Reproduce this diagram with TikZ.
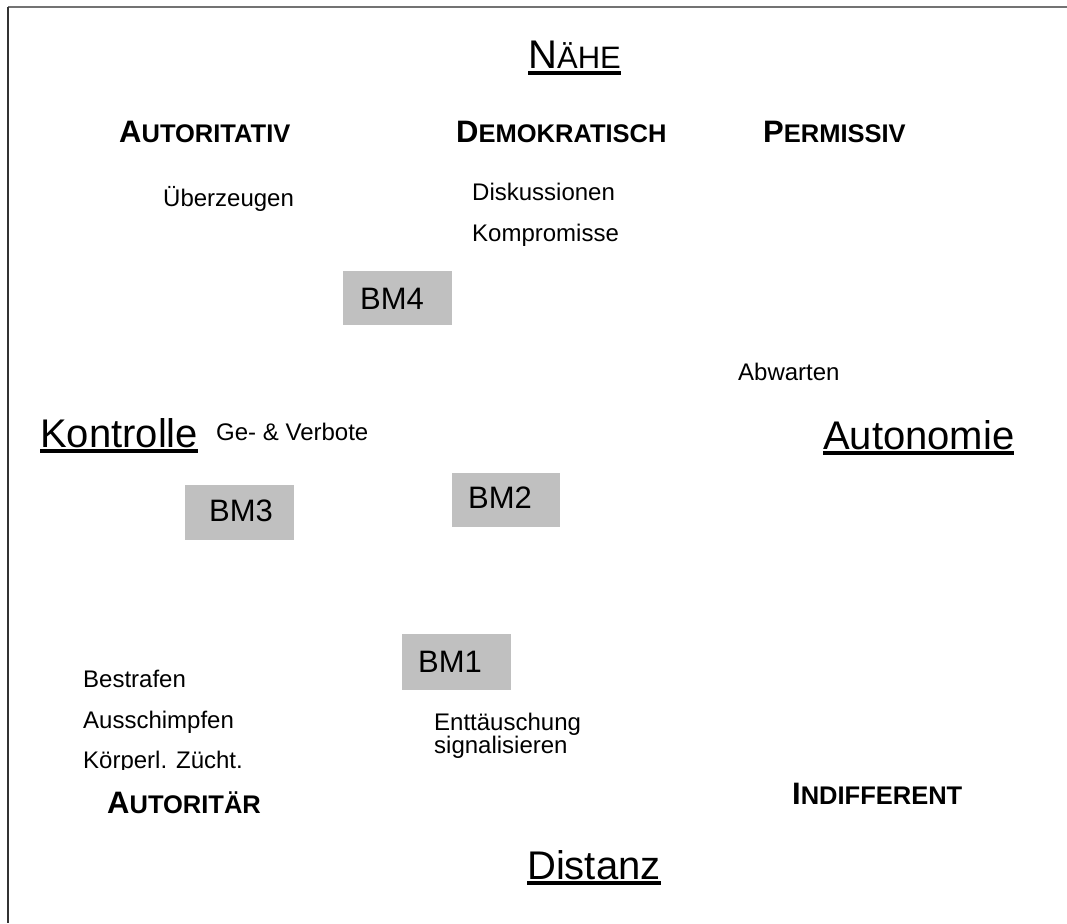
\documentclass[tikz,border=0pt]{standalone}
\usepackage{fontspec}
\setmainfont{Liberation Sans}
\newcommand\myul[1]{\setbox0=\hbox{#1}\rlap{\vrule height -2pt depth 6pt width \wd0}\box0}
\newcommand\hdcap[2]{{\fontsize{31}{31}\selectfont\bfseries #1}{\fontsize{25.5}{25.5}\selectfont\bfseries #2}}
\tikzset{
  txt/.style={anchor=base west, inner sep=0pt, font=\fontsize{24}{24}\selectfont},
  big/.style={anchor=base west, inner sep=0pt, font=\fontsize{40}{40}\selectfont},
  hd/.style={anchor=base west, inner sep=0pt},
  bmbox/.style={fill=bmgray, draw=none, inner sep=0pt, anchor=north west},
  bmtxt/.style={anchor=base west, inner sep=0pt, font=\fontsize{31}{31}\selectfont}
}
\definecolor{bmgray}{RGB}{192,192,192}
\begin{document}
\begin{tikzpicture}[x=1pt,y=-1pt]
\useasboundingbox (0,0) rectangle (1067,923);
\coordinate (tl) at (8,7);
\coordinate (tr) at (1067,7);
\coordinate (bl) at (8,923);
\draw[line width=2pt, color=black!55] (tl) -- (tr);
\draw[line width=2pt, color=black!80] (tl) -- (bl);

% axis labels
\node[big] (naehe) at (528,69) {\myul{N{\fontsize{31}{31}\selectfont ÄHE}}};
\node[big] (kon) at (40,447) {\myul{Kontrolle}};
\node[big] (auto) at (823,449) {\myul{Autonomie}};
\node[big] (dist) at (527,879) {\myul{Distanz}};

% style headings
\node[hd] (aut) at (119,142) {\hdcap{A}{UTORITATIV}};
\node[hd] (dem) at (456,142) {\hdcap{D}{EMOKRATISCH}};
\node[hd] (per) at (763,142) {\hdcap{P}{ERMISSIV}};
\node[hd] (autr) at (107,813) {\hdcap{A}{UTORITÄR}};
\node[hd] (ind) at (792,804) {\hdcap{I}{NDIFFERENT}};

% behaviours
\node[txt] (ueb) at (163,206) {Überzeugen};
\node[txt] (disk) at (472,200) {Diskussionen};
\node[txt] (komp) at (472,241) {Kompromisse};
\node[txt] (abw) at (738,380) {Abwarten};
\node[txt] (ge) at (216,440) {Ge- \& Verbote};
\node[txt] (bes) at (83,687) {Bestrafen};
\node[txt] (aus) at (83,728) {Ausschimpfen};
\begin{scope}
\clip (0,0) rectangle (1067,769);
\node[txt] (koe) at (83,768) {Körperl. Zücht.};
\end{scope}
\node[txt] (ent1) at (434,730) {Enttäuschung};
\node[txt] (ent2) at (434,753) {signalisieren};

% BM boxes
\node[bmbox, minimum width=109pt, minimum height=54pt] (bm4box) at (343,271) {};
\node[bmtxt] (bm4) at (360,309) {BM4};
\node[bmbox, minimum width=109pt, minimum height=55pt] (bm3box) at (185,485) {};
\node[bmtxt] (bm3) at (209,521) {BM3};
\node[bmbox, minimum width=108pt, minimum height=54pt] (bm2box) at (452,473) {};
\node[bmtxt] (bm2) at (468,508) {BM2};
\node[bmbox, minimum width=109pt, minimum height=56pt] (bm1box) at (402,634) {};
\node[bmtxt] (bm1) at (418,672) {BM1};
\end{tikzpicture}
\end{document}
